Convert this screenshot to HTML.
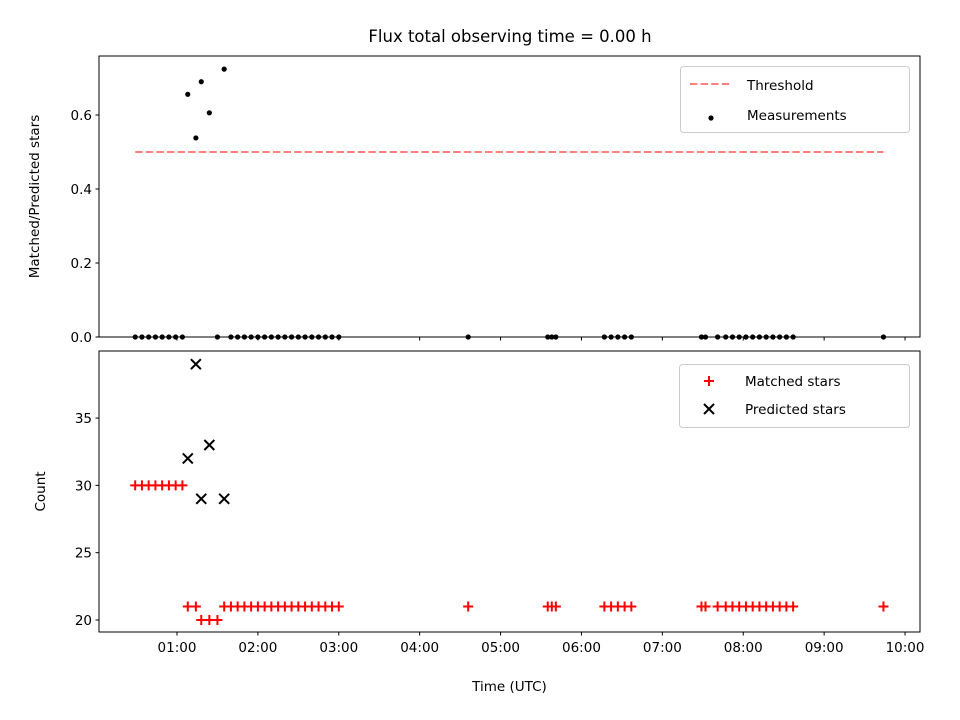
<!DOCTYPE html>
<html><head><meta charset="utf-8"><style>
body{margin:0;background:#fff;}
svg{display:block;font-family:"DejaVu Sans","Liberation Sans",sans-serif;}
</style></head><body>
<svg id="chart" width="960" height="720" viewBox="0 0 960 720" xmlns="http://www.w3.org/2000/svg">
<rect width="960" height="720" fill="#fff"/>
<text x="510" y="42" text-anchor="middle" font-size="16.5">Flux total observing time = 0.00 h</text>
<g id="topPanel"></g>
<g id="botPanel"></g>
</svg>
<script>
// times in minutes after 00:00 UTC
const times = [29,34,39,44,49,54,59,64,68,74,78,84,90,95,100,105,110,115,120,125,130,135,140,145,150,155,160,165,170,175,180,276,335,338,341,377,382,387,392,397,449,452,461,467,472,477,482,487,492,497,502,507,512,517,584];
const matched = [30,30,30,30,30,30,30,30,21,21,20,20,20,21,21,21,21,21,21,21,21,21,21,21,21,21,21,21,21,21,21,21,21,21,21,21,21,21,21,21,21,21,21,21,21,21,21,21,21,21,21,21,21,21,21];
const predTimes = [68,74,78,84,95];
const predicted = [32,39,29,33,29];
const ratio = [0,0,0,0,0,0,0,0,0.656,0.538,0.690,0.606,0,0.724,0,0,0,0,0,0,0,0,0,0,0,0,0,0,0,0,0,0,0,0,0,0,0,0,0,0,0,0,0,0,0,0,0,0,0,0,0,0,0,0,0];
const threshold = 0.5;
const xTickHours = [1,2,3,4,5,6,7,8,9,10];
const topTicks = [0.0,0.2,0.4,0.6];
const botTicks = [20,25,30,35];

const NS="http://www.w3.org/2000/svg";
const L=99,R=920;
const xMin=2.15,xMax=611.1;
const x=t=>L+(t-xMin)/(xMax-xMin)*(R-L);
const T1=56,B1=337,T2=351,B2=632;
const y1=v=>B1-(v-0)/(0.7595-0)*(B1-T1);
const y2=v=>B2-(v-19.11)/(39.98-19.11)*(B2-T2);
function mk(p,tag,a,txt){const e=document.createElementNS(NS,tag);for(const k in a)e.setAttribute(k,a[k]);if(txt!==undefined)e.textContent=txt;p.appendChild(e);return e;}
const topG=document.getElementById('topPanel'),botG=document.getElementById('botPanel');
const pad=n=>String(n).padStart(2,'0');

// top panel
const thr=mk(topG,'line',{x1:x(times[0]),x2:x(times[times.length-1]),y1:y1(threshold),y2:y1(threshold),stroke:'#ff0000','stroke-opacity':0.5,'stroke-width':2,'stroke-dasharray':'7.4,3.2'});


times.forEach((t,i)=>{const c=mk(topG,'circle',{cx:x(t),cy:y1(ratio[i]),r:2.6,fill:'#000'});

});
mk(topG,'rect',{x:L,y:T1,width:R-L,height:B1-T1,fill:'none',stroke:'#000','stroke-width':1});
topTicks.forEach(v=>{const yy=y1(v);mk(topG,'line',{x1:L-3.5,x2:L,y1:yy,y2:yy,stroke:'#000'});
const tx=mk(topG,'text',{x:L-7,y:yy+5,'text-anchor':'end','font-size':13.5},v.toFixed(1));

});
xTickHours.forEach(h=>{const xx=x(h*60);mk(topG,'line',{x1:xx,x2:xx,y1:B1,y2:B1+3.5,stroke:'#000'});});
const yt1=mk(topG,'text',{x:39,y:(T1+B1)/2,'text-anchor':'middle','font-size':13.5,transform:`rotate(-90 39 ${(T1+B1)/2})`},'Matched/Predicted stars');


const lg1=mk(topG,'g',{});


mk(lg1,'rect',{x:680.5,y:66.5,width:229,height:66,rx:3,fill:'#fff','fill-opacity':0.8,stroke:'#ccc'});
mk(lg1,'line',{x1:690,x2:732,y1:84,y2:84,stroke:'#ff0000','stroke-opacity':0.5,'stroke-width':2,'stroke-dasharray':'7.4,3.2'});
mk(lg1,'text',{x:747,y:90,'font-size':13.5},'Threshold');
mk(lg1,'circle',{cx:711,cy:118,r:2.6,fill:'#000'});
mk(lg1,'text',{x:747,y:120,'font-size':13.5},'Measurements');

// bottom panel
times.forEach((t,i)=>{const xx=x(t),yy=y2(matched[i]);
const g=mk(botG,'path',{d:`M${xx-5},${yy}H${xx+5}M${xx},${yy-5}V${yy+5}`,stroke:'#ff0000','stroke-width':2});

});
predTimes.forEach((t,i)=>{const xx=x(t),yy=y2(predicted[i]);
const g=mk(botG,'path',{d:`M${xx-5},${yy-5}L${xx+5},${yy+5}M${xx-5},${yy+5}L${xx+5},${yy-5}`,stroke:'#000','stroke-width':2});

});
mk(botG,'rect',{x:L,y:T2,width:R-L,height:B2-T2,fill:'none',stroke:'#000','stroke-width':1});
botTicks.forEach(v=>{const yy=y2(v);mk(botG,'line',{x1:L-3.5,x2:L,y1:yy,y2:yy,stroke:'#000'});
const tx=mk(botG,'text',{x:L-7,y:yy+5,'text-anchor':'end','font-size':13.5},String(v));

});
xTickHours.forEach(h=>{const xx=x(h*60);mk(botG,'line',{x1:xx,x2:xx,y1:B2,y2:B2+3.5,stroke:'#000'});
const tx=mk(botG,'text',{x:xx,y:B2+20,'text-anchor':'middle','font-size':13.5},pad(h)+':00');

});
const yt2=mk(botG,'text',{x:45,y:(T2+B2)/2,'text-anchor':'middle','font-size':13.5,transform:`rotate(-90 45 ${(T2+B2)/2})`},'Count');


const xt=mk(botG,'text',{x:(L+R)/2,y:691,'text-anchor':'middle','font-size':13.5},'Time (UTC)');


const lg2=mk(botG,'g',{});


mk(lg2,'rect',{x:679.5,y:364.5,width:230,height:63,rx:3,fill:'#fff','fill-opacity':0.8,stroke:'#ccc'});
mk(lg2,'path',{d:'M704,381H714M709,376V386',stroke:'#ff0000','stroke-width':2});
mk(lg2,'text',{x:745,y:386,'font-size':13.5},'Matched stars');
mk(lg2,'path',{d:'M704,404L714,414M704,414L714,404',stroke:'#000','stroke-width':2});
mk(lg2,'text',{x:745,y:414,'font-size':13.5},'Predicted stars');
</script>
</body></html>
